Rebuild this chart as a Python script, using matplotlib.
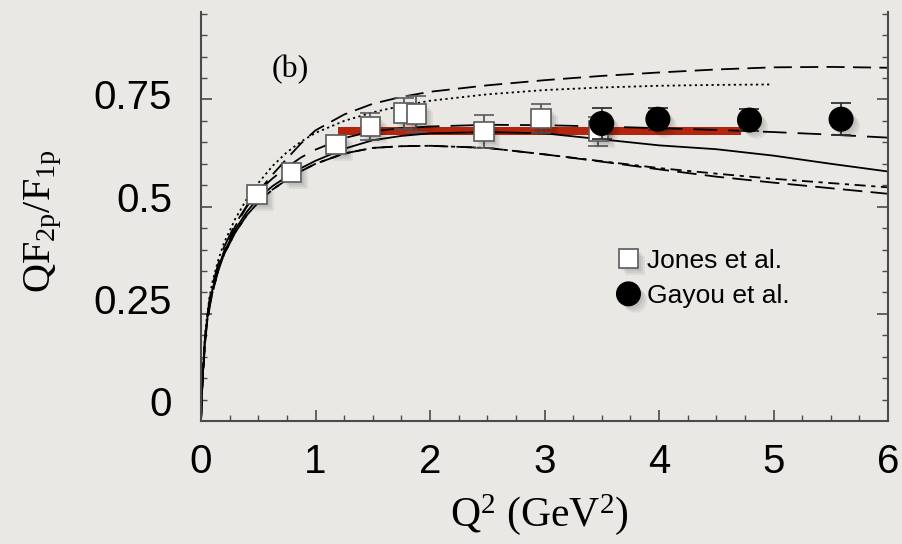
import matplotlib
matplotlib.use("Agg")
from matplotlib import pyplot as plt
import matplotlib.patheffects as pe
import matplotlib.transforms as mtransforms
import numpy as np

plt.rcParams["mathtext.fontset"] = "custom"
plt.rcParams["mathtext.rm"] = "Liberation Serif"
plt.rcParams["mathtext.it"] = "Liberation Serif:italic"
plt.rcParams["lines.scale_dashes"] = False

# data
jones_q2 = [0.49, 0.79, 1.18, 1.48, 1.77, 1.88, 2.47, 2.97, 3.47]
jones_r = [0.528, 0.580, 0.645, 0.687, 0.718, 0.716, 0.675, 0.705, 0.676]
jones_err = [0.010, 0.012, 0.015, 0.032, 0.036, 0.043, 0.039, 0.034, 0.034]

gayou_q2 = [3.50, 3.99, 4.79, 5.59]
gayou_r = [0.694, 0.704, 0.702, 0.704]
gayou_err = [0.036, 0.025, 0.026, 0.037]

band_q2 = [1.20, 4.72]
band_lo = [0.668, 0.668]
band_hi = [0.686, 0.686]

# model curves
q2 = [0, 0.01, 0.02, 0.035, 0.05, 0.075, 0.1, 0.15, 0.2, 0.3, 0.4, 0.5, 0.625, 0.75,
      0.875, 1.0, 1.25, 1.5, 1.75, 2.0, 2.5, 3.0, 3.5, 4.0, 4.5, 5.0, 5.5, 6.0]
upper_dash = [0, 0.075, 0.12, 0.18, 0.22, 0.265, 0.30, 0.355, 0.395, 0.455, 0.50, 0.535, 0.575, 0.612,
              0.648, 0.678, 0.715, 0.740, 0.756, 0.768, 0.783, 0.795, 0.805, 0.813, 0.820, 0.825, 0.826, 0.824]
mid_dash = [0, 0.08, 0.13, 0.195, 0.235, 0.285, 0.318, 0.366, 0.405, 0.46, 0.502, 0.535, 0.566, 0.592,
            0.615, 0.633, 0.660, 0.676, 0.683, 0.687, 0.691, 0.690, 0.687, 0.683, 0.679, 0.674, 0.668, 0.661]
solid = [0, 0.075, 0.125, 0.19, 0.23, 0.275, 0.308, 0.355, 0.393, 0.447, 0.488, 0.520, 0.548, 0.570,
         0.590, 0.607, 0.635, 0.655, 0.665, 0.671, 0.674, 0.671, 0.657, 0.643, 0.634, 0.619, 0.600, 0.582]
low_dash = [0, 0.075, 0.12, 0.185, 0.225, 0.27, 0.30, 0.35, 0.388, 0.44, 0.48, 0.51, 0.54, 0.563,
            0.583, 0.600, 0.624, 0.637, 0.641, 0.642, 0.637, 0.622, 0.605, 0.587, 0.570, 0.556, 0.543, 0.530]
low_dashdot = [0, 0.075, 0.12, 0.185, 0.225, 0.27, 0.30, 0.35, 0.388, 0.44, 0.48, 0.51, 0.54, 0.563,
               0.583, 0.600, 0.624, 0.637, 0.641, 0.642, 0.637, 0.622, 0.606, 0.590, 0.577, 0.565, 0.555, 0.545]
dot_q2 = [0, 0.01, 0.02, 0.035, 0.05, 0.075, 0.1, 0.15, 0.2, 0.3, 0.4, 0.5, 0.625, 0.75,
          0.875, 1.0, 1.25, 1.5, 1.75, 2.0, 2.5, 3.0, 3.5, 4.0, 4.5, 4.97]
dotted = [0, 0.09, 0.14, 0.20, 0.24, 0.29, 0.325, 0.375, 0.415, 0.472, 0.518, 0.555, 0.595, 0.627,
          0.652, 0.672, 0.700, 0.720, 0.735, 0.747, 0.762, 0.772, 0.778, 0.782, 0.784, 0.785]

ytick_vals = [0, 0.25, 0.5, 0.75]
ytick_text = ["0", "0.25", "0.5", "0.75"]

bg = "#e9e8e4"
axc = "#4a4a4a"

fig = plt.figure(figsize=(9.03, 5.44), dpi=100, facecolor=bg)
ax = fig.add_axes([0.2226, 0.2261, 0.7608, 0.751])
ax.set_facecolor(bg)

ax.fill_between(band_q2, band_lo, band_hi, color="#b3250c", lw=0, zorder=1)

lw = 1.3
ax.plot(q2, upper_dash, color="k", lw=lw, dashes=(13, 6), zorder=2)
ax.plot(dot_q2, dotted, color="k", lw=lw, dashes=(1.6, 2.4), zorder=2)
ax.plot(q2, mid_dash, color="k", lw=lw, dashes=(17, 8), zorder=2)
ax.plot(q2, solid, color="k", lw=lw, zorder=2)
ax.plot(q2, low_dash, color="k", lw=lw, dashes=(14, 6), zorder=2)
ax.plot(q2, low_dashdot, color="k", lw=lw, dashes=(8, 4, 3, 4), zorder=2)

# soft drop shadow, layered to fake a blur
shadow = [pe.SimplePatchShadow(offset=(o, -o), shadow_rgbFace="k", alpha=0.06)
          for o in (2, 3.5, 5)] + [pe.Normal()]

jones = ax.errorbar(jones_q2, jones_r, yerr=jones_err, fmt="s", ms=14, mfc="white",
                    mec="#5a5a5a", mew=1.2, ecolor="#5a5a5a", elinewidth=1.3,
                    capsize=7, capthick=1.3, zorder=4, label="Jones et al.")
gayou = ax.errorbar(gayou_q2, gayou_r, yerr=gayou_err, fmt="o", ms=17, mfc="black",
                    mec="black", ecolor="#333333", elinewidth=1.3,
                    capsize=7, capthick=1.3, zorder=5, label="Gayou et al.")
jones[0].set_path_effects(shadow)
gayou[0].set_path_effects(shadow)

ax.set_xlim(0, 6)
ax.set_ylim(0, 0.953)
ax.set_xticks(range(7))
ax.set_xticks(np.arange(0, 6.01, 0.25), minor=True)
ax.set_yticks(ytick_vals)
ax.set_yticklabels([])
ax.set_yticks(np.arange(0, 0.951, 0.05), minor=True)

for s in ["left", "right", "bottom"]:
    ax.spines[s].set_color(axc)
    ax.spines[s].set_linewidth(1.5)
ax.spines["top"].set_visible(False)

ax.tick_params(which="both", direction="in", color=axc, right=True, top=False)
ax.tick_params(which="major", length=8, width=1.2)
ax.tick_params(which="minor", length=4.5, width=1.0)
ax.tick_params(axis="x", which="major", pad=16, labelsize=29)
for lab in ax.get_xticklabels():
    lab.set_fontfamily("Liberation Sans")

# y labels sit a little higher than their ticks in the original, more so near 0
ytrans = ax.get_yaxis_transform()
for i, (v, t) in enumerate(zip(ytick_vals, ytick_text)):
    lift = (16 - 5 * i) / 100
    off = mtransforms.ScaledTranslation(-29 / 100, lift, fig.dpi_scale_trans)
    ax.text(0, v, t, transform=ytrans + off, ha="right", va="center",
            family="Liberation Sans", fontsize=29)

ax.set_xlabel("Q$^2$ (GeV$^2$)", family="Liberation Serif", fontsize=30)
ax.xaxis.set_label_coords(0.493, -0.175)
ax.set_ylabel(r"$\mathrm{QF_{2p}/F_{1p}}$", fontsize=29)
ax.yaxis.set_label_coords(-0.2, 0.49)

ax.text(0.13, 0.86, "(b)", transform=ax.transAxes, family="Liberation Serif",
        fontsize=23, ha="center", va="center")

handles, labels = ax.get_legend_handles_labels()
handles = [h[0] for h in handles]
leg = ax.legend(handles, labels, loc="upper left", bbox_to_anchor=(0.603, 0.421),
                frameon=False, borderpad=0, borderaxespad=0, handlelength=1.0,
                handletextpad=0.2, labelspacing=0.42, markerscale=1.0,
                prop={"family": "Liberation Sans", "size": 19})

fig.savefig("out.png", dpi=100, facecolor=bg)
